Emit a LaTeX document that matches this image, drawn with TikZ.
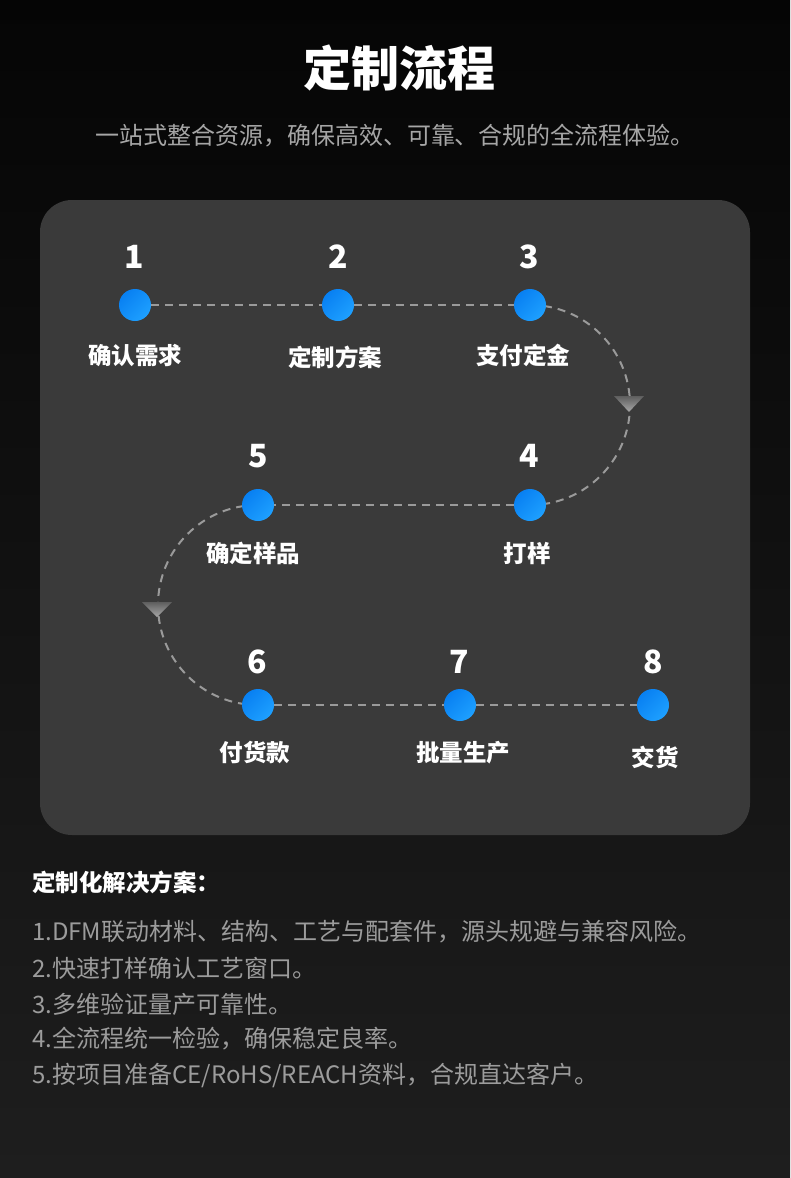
\documentclass[tikz,border=0pt]{standalone}
\usepackage{fontspec}
\setmainfont{Noto Sans CJK SC}
\usetikzlibrary{backgrounds}
\pgfdeclarelayer{bglayer}
\pgfdeclarelayer{connlayer}
\pgfsetlayers{bglayer,connlayer,main}
\definecolor{bgtop}{HTML}{050505}
\definecolor{bgbot}{HTML}{1E1E1E}
\definecolor{cardc}{HTML}{3A3A3A}
\definecolor{dotA}{HTML}{0880F2}
\definecolor{dotB}{HTML}{1EA0FF}
\definecolor{dashc}{HTML}{9A9A9A}
\definecolor{subc}{HTML}{A6A6A6}
\definecolor{listc}{HTML}{9C9C9C}
\definecolor{triA}{HTML}{5E5E5E}
\definecolor{triB}{HTML}{A8A8A8}
\tikzset{
  stepdot/.style={circle, minimum size=32pt, inner sep=0pt, left color=dotA, right color=dotB, shading angle=45},
  stepnum/.style={text=white, font=\fontsize{32pt}{36pt}\selectfont\bfseries, inner sep=0pt},
  steplabel/.style={text=white, font=\fontsize{23.5pt}{27pt}\selectfont\bfseries, inner sep=0pt},
  flowline/.style={draw=dashc, line width=2pt, dash pattern=on 8pt off 6pt},
  listline/.style={text=listc, anchor=west, inner sep=0pt, font=\fontsize{24pt}{28pt}\selectfont},
  arrowtri/.style={top color=triA, bottom color=triB, draw=none}
}
\begin{document}
\begin{tikzpicture}[x=1pt,y=-1pt]
\useasboundingbox (0,0) rectangle (790,1178);
\begin{pgfonlayer}{bglayer}
\shade[top color=bgtop, bottom color=bgbot] (0,0) rectangle (790,1178);
\fill[cardc, rounded corners=32pt] (40,200) rectangle (750,835);
\end{pgfonlayer}

% title
\node[text=white, font=\fontsize{48pt}{56pt}\selectfont\bfseries, inner sep=0pt] (title) at (399,68) {定制流程};
\node[text=subc, font=\fontsize{24pt}{28pt}\selectfont, inner sep=0pt] (subtitle) at (395,136) {一站式整合资源，确保高效、可靠、合规的全流程体验。};

% dots
\node[stepdot] (d1) at (135,305) {};
\node[stepdot] (d2) at (338,305) {};
\node[stepdot] (d3) at (530,305) {};
\node[stepdot] (d4) at (530,505) {};
\node[stepdot] (d5) at (258,505) {};
\node[stepdot] (d6) at (258,705) {};
\node[stepdot] (d7) at (460,705) {};
\node[stepdot] (d8) at (653,705) {};

% numbers
\node[stepnum] (n1) at (134,257) {1};
\node[stepnum] (n2) at (338,257) {2};
\node[stepnum] (n3) at (529,257) {3};
\node[stepnum] (n4) at (529,456) {4};
\node[stepnum] (n5) at (258,456) {5};
\node[stepnum] (n6) at (257,662) {6};
\node[stepnum] (n7) at (459,662) {7};
\node[stepnum] (n8) at (653,662) {8};

% labels
\node[steplabel] (l1) at (135,355) {确认需求};
\node[steplabel] (l2) at (335,357) {定制方案};
\node[steplabel] (l3) at (523,355) {支付定金};
\node[steplabel] (l4) at (527,553) {打样};
\node[steplabel] (l5) at (253,553) {确定样品};
\node[steplabel] (l6) at (255,753) {付货款};
\node[steplabel] (l7) at (463,753) {批量生产};
\node[steplabel] (l8) at (655,757) {交货};

% connectors
\draw[flowline] (d1) -- (d2);
\draw[flowline] (d2) -- (d3);
\draw[flowline] (d4) -- (d5);
\draw[flowline] (d6) -- (d7);
\draw[flowline] (d7) -- (d8);
\begin{pgfonlayer}{connlayer}
\draw[flowline] (d3.center) arc[start angle=90, end angle=-90, radius=100pt] coordinate (a34);
\draw[flowline] (d5.center) arc[start angle=90, end angle=270, radius=100pt] coordinate (a56);
\end{pgfonlayer}
\shade[arrowtri] (614,396) -- (644,396) -- (629,412) -- cycle;
\shade[arrowtri] (142,602) -- (172,602) -- (157,617) -- cycle;

% bottom text
\node[text=white, anchor=west, inner sep=0pt, font=\fontsize{23.5pt}{27pt}\selectfont\bfseries] (head) at (32,882) {定制化解决方案：};
\node[listline] (t1) at (32,932) {1.DFM联动材料、结构、工艺与配套件，源头规避与兼容风险。};
\node[listline] (t2) at (32,968) {2.快速打样确认工艺窗口。};
\node[listline] (t3) at (32,1004) {3.多维验证量产可靠性。};
\node[listline] (t4) at (32,1039) {4.全流程统一检验，确保稳定良率。};
\node[listline] (t5) at (32,1075) {5.按项目准备CE/RoHS/REACH资料，合规直达客户。};
\end{tikzpicture}
\end{document}
